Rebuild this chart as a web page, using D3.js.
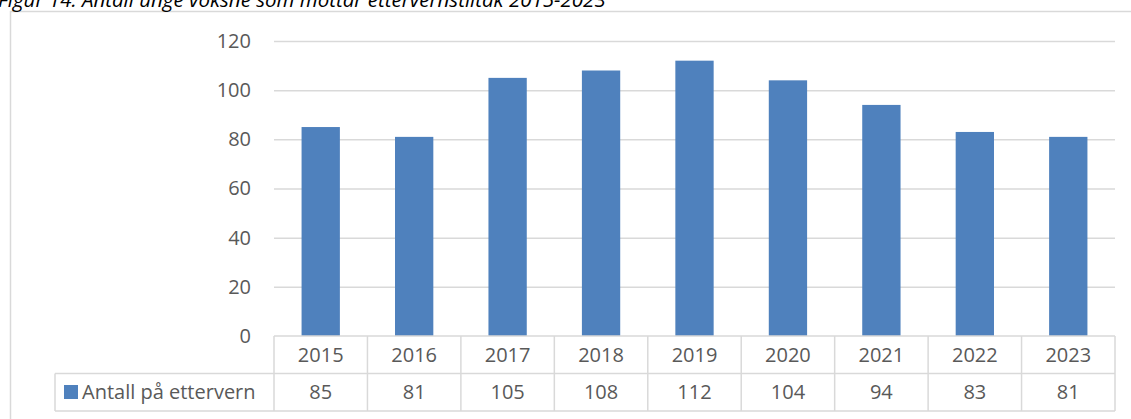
<!DOCTYPE html>
<html>
<head>
<meta charset="utf-8">
<script src="https://cdn.jsdelivr.net/npm/d3@7"></script>
<style>
  body { margin: 0; background: #fff; overflow: hidden; }
  svg { display: block; font-family: "Open Sans", sans-serif; }
</style>
</head>
<body>
<div id="chart"></div>
<script>
// data
var years = ["2015", "2016", "2017", "2018", "2019", "2020", "2021", "2022", "2023"];
var counts = [85, 81, 105, 108, 112, 104, 94, 83, 81];
var seriesName = "Antall på ettervern";
var yTicks = [0, 20, 40, 60, 80, 100, 120];
var title = "Figur 14: Antall unge voksne som mottar ettervernstiltak 2015-2023";

(function () {
    var data = years.map(function (y, i) { return { year: y, value: counts[i] }; });

    var svgWidth = 1131, svgHeight = 419;
    var svg = d3.select("#chart").append("svg")
        .attr("width", svgWidth)
        .attr("height", svgHeight);

    var textColor = "#595959", lineColor = "#d9d9d9", barColor = "#4f81bd";
    var plotLeft = 274, plotRight = 1115, plotTop = 41, zero = 336;
    var rowH = 37.5;

    // chart frame (runs off the page on right and bottom)
    svg.append("rect")
        .attr("x", 10.5).attr("y", 11.5)
        .attr("width", 1200).attr("height", 500)
        .attr("fill", "none")
        .attr("stroke", lineColor)
        .attr("stroke-width", 1.5);

    // title, mostly cut off at the top
    svg.append("text")
        .attr("x", -2).attr("y", 7)
        .attr("fill", "#000")
        .style("font-style", "italic")
        .style("font-size", "20.5px")
        .text(title);

    var col = d3.scaleBand().domain(years).range([plotLeft, plotRight]);
    var x = d3.scaleBand().domain(years).range([plotLeft, plotRight])
        .paddingInner(0.59).paddingOuter(0.295);
    var y = d3.scaleLinear().domain([0, 120]).range([zero, plotTop]);

    // gridlines + y labels
    var yAxis = svg.append("g")
        .attr("transform", "translate(" + plotLeft + ",0)")
        .call(d3.axisLeft(y).tickValues(yTicks).tickSize(-(plotRight - plotLeft)).tickPadding(23));
    yAxis.select(".domain").remove();
    yAxis.selectAll(".tick line")
        .attr("stroke", lineColor)
        .attr("stroke-width", 1.5)
        .filter(function (d) { return d === 0; }).remove();
    yAxis.selectAll(".tick text")
        .attr("fill", textColor)
        .style("font-size", "20px")
        .style("font-family", "Open Sans, sans-serif");

    // bars
    svg.selectAll("rect.bar")
        .data(data)
        .enter().append("rect")
        .attr("class", "bar")
        .attr("x", function (d) { return x(d.year); })
        .attr("width", x.bandwidth())
        .attr("y", function (d) { return y(d.value); })
        .attr("height", function (d) { return zero - y(d.value); })
        .attr("fill", barColor);

    // data table
    var table = svg.append("g")
        .attr("fill", "none")
        .attr("stroke", lineColor)
        .attr("stroke-width", 1.5);
    table.append("line").attr("x1", plotLeft).attr("x2", plotRight).attr("y1", zero).attr("y2", zero);
    table.append("line").attr("x1", 55).attr("x2", plotRight).attr("y1", zero + rowH).attr("y2", zero + rowH);
    table.append("line").attr("x1", 55).attr("x2", plotRight).attr("y1", zero + 2 * rowH).attr("y2", zero + 2 * rowH);
    table.append("line").attr("x1", 55).attr("x2", 55).attr("y1", zero + rowH).attr("y2", zero + 2 * rowH);
    table.selectAll("line.col")
        .data(years.concat(["end"]))
        .enter().append("line")
        .attr("class", "col")
        .attr("x1", function (d) { return d === "end" ? plotRight : col(d); })
        .attr("x2", function (d) { return d === "end" ? plotRight : col(d); })
        .attr("y1", zero)
        .attr("y2", zero + 2 * rowH);

    svg.selectAll("text.year")
        .data(data)
        .enter().append("text")
        .attr("class", "year")
        .attr("x", function (d) { return col(d.year) + col.bandwidth() / 2; })
        .attr("y", zero + rowH / 2)
        .attr("dy", "0.35em")
        .attr("text-anchor", "middle")
        .attr("fill", textColor)
        .style("font-size", "20px")
        .text(function (d) { return d.year; });

    svg.selectAll("text.val")
        .data(data)
        .enter().append("text")
        .attr("class", "val")
        .attr("x", function (d) { return col(d.year) + col.bandwidth() / 2; })
        .attr("y", zero + rowH * 1.5)
        .attr("dy", "0.35em")
        .attr("text-anchor", "middle")
        .attr("fill", textColor)
        .style("font-size", "20px")
        .text(function (d) { return d.value; });

    // legend key in table
    svg.append("rect")
        .attr("x", 64).attr("y", 385)
        .attr("width", 14).attr("height", 14)
        .attr("fill", barColor);
    svg.append("text")
        .attr("x", 82)
        .attr("y", zero + rowH * 1.5)
        .attr("dy", "0.35em")
        .attr("fill", textColor)
        .style("font-size", "20px")
        .text(seriesName);
})();
</script>
</body>
</html>
